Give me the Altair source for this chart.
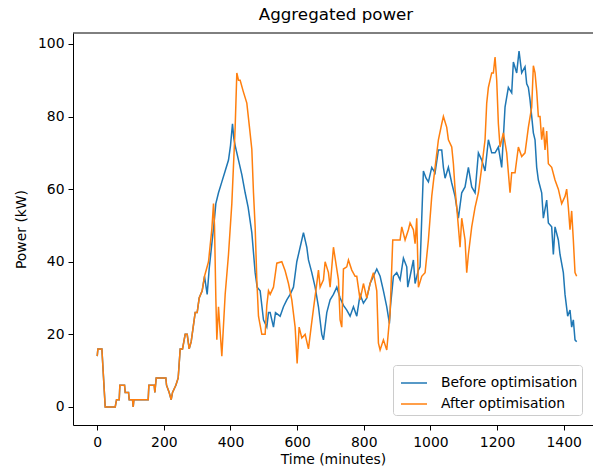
import altair as alt
import pandas as pd

# shared beginning of both profiles (minute, kW)
start_points = [(0, 14), (2, 16), (14, 16), (24, 0), (54, 0), (58, 2), (66, 2), (68, 6), (82, 6),
                (84, 4), (94, 4), (96, 2), (106, 2), (108, 0), (110, 2), (153, 2), (155, 6), (171, 6),
                (173, 4), (177, 8), (206, 8), (208, 6), (216, 4), (222, 2), (226, 4), (236, 6),
                (243, 8), (249, 16), (256, 16), (264, 20), (270, 20), (276, 16), (282, 18), (288, 22),
                (294, 26), (300, 26), (306, 30), (315, 32), (322, 36)]

before_points = [(330, 31), (336, 38), (344, 45), (350, 50), (356, 56), (364, 59), (374, 62), (384, 65),
                 (394, 68), (400, 72), (406, 78), (410, 74), (414, 72), (424, 68), (434, 64), (444, 59),
                 (453, 55), (464, 48), (474, 37), (480, 33), (489, 32), (499, 24), (509, 22), (514, 26),
                 (519, 26), (529, 22), (535, 26), (549, 25), (559, 27.6), (569, 29.5), (579, 31),
                 (589, 33), (599, 40), (609, 44), (619, 48), (629, 44), (634, 40.5), (644, 37), (654, 33),
                 (664, 27.6), (674, 20), (679, 18.5), (689, 26), (699, 29.5), (709, 31), (719, 33),
                 (729, 30), (739, 28), (749, 26.7), (759, 25), (769, 27.6), (779, 25), (789, 31),
                 (799, 28.6), (809, 30), (819, 34), (829, 36), (839, 38), (849, 36), (859, 32),
                 (869, 27.6), (877, 23), (880, 27.6), (889, 36), (899, 37), (909, 35), (919, 41),
                 (929, 38.6), (932, 33), (939, 36), (949, 40.5), (954, 34), (964, 37.7), (969, 38.6),
                 (974, 52), (979, 65), (987, 63), (994, 62), (1004, 66), (1014, 64.5), (1024, 70.8),
                 (1034, 70.8), (1039, 66), (1044, 63), (1054, 66), (1064, 61.7), (1074, 58), (1084, 52),
                 (1094, 59), (1104, 60.6), (1114, 66), (1124, 60.6), (1134, 59), (1144, 70), (1154, 68),
                 (1164, 65), (1174, 73.6), (1184, 70), (1194, 70), (1204, 71.6), (1214, 66), (1224, 82.6),
                 (1234, 88), (1244, 86.5), (1249, 95), (1259, 92), (1266, 98), (1274, 92), (1284, 93.7),
                 (1289, 89), (1294, 88), (1299, 84.6), (1309, 75.5), (1314, 73.6), (1319, 66),
                 (1324, 62.5), (1334, 59), (1339, 52), (1349, 57), (1354, 50.7), (1364, 49.6),
                 (1369, 42), (1374, 49.6), (1384, 46), (1389, 42), (1399, 37), (1404, 31), (1412, 25),
                 (1419, 26.7), (1424, 22), (1429, 24), (1434, 18.5), (1439, 18)]

after_points = [(334, 40), (344, 49), (349, 56), (352, 50), (356, 30), (359, 18.5), (364, 27.6),
                (368, 22), (374, 14), (384, 31), (394, 42), (404, 56), (414, 77), (419, 92), (424, 90),
                (429, 90), (438, 87), (449, 83.7), (457, 77), (464, 71), (469, 59), (474, 49.6),
                (479, 35), (484, 25), (494, 20), (504, 20), (509, 28), (514, 32), (519, 31), (529, 33),
                (539, 39.6), (554, 40), (564, 37.5), (574, 34), (584, 29.5), (594, 22), (600, 12),
                (606, 22), (614, 19), (624, 20), (634, 16), (642, 22), (649, 27), (659, 34), (664, 37.7),
                (669, 33), (679, 35), (684, 40), (694, 37), (699, 33), (709, 44), (714, 41), (724, 35),
                (729, 24), (734, 22), (739, 38), (749, 38.6), (754, 40.5), (764, 37.7), (774, 36),
                (779, 36), (789, 29.5), (799, 34), (809, 30), (819, 34), (829, 37), (839, 32),
                (844, 17.6), (849, 15.7), (859, 18.5), (869, 15.7), (879, 26), (887, 46), (899, 46),
                (909, 46), (914, 49.6), (924, 46), (934, 48.8), (939, 50.7), (949, 48.8), (954, 45),
                (959, 52), (964, 33), (974, 36), (984, 37), (994, 46), (1004, 58), (1014, 66),
                (1024, 73.6), (1034, 78), (1039, 80), (1049, 77), (1054, 73.6), (1064, 71.6), (1069, 67),
                (1074, 60), (1079, 55), (1084, 49.6), (1089, 44), (1094, 52), (1104, 46), (1109, 37),
                (1114, 42), (1124, 49.6), (1134, 55), (1144, 59), (1154, 66), (1164, 73.6), (1169, 83.7),
                (1174, 88), (1184, 92), (1189, 92), (1194, 96.4), (1199, 90), (1204, 78), (1209, 71.6),
                (1219, 75.5), (1229, 70), (1234, 64.5), (1239, 59), (1244, 64.5), (1254, 64.5),
                (1264, 71.6), (1274, 69), (1284, 70), (1294, 77), (1304, 82.6), (1309, 94), (1314, 92),
                (1319, 87), (1324, 80), (1329, 80), (1334, 73.6), (1339, 77), (1344, 70.8), (1349, 76),
                (1354, 67), (1364, 66), (1374, 62.5), (1384, 60), (1394, 56), (1404, 58), (1409, 60),
                (1414, 55), (1419, 48.8), (1424, 54), (1429, 46), (1434, 37), (1439, 36)]

series_names = ["Before optimisation", "After optimisation"]
series_colors = ["#1f77b4", "#ff7f0e"]
x_ticks = [0, 200, 400, 600, 800, 1000, 1200, 1400]
y_ticks = [0, 20, 40, 60, 80, 100]

rows = []
for t, v in start_points + before_points:
    rows.append({"t": t, "p": v, "series": series_names[0]})
for t, v in start_points + after_points:
    rows.append({"t": t, "p": v, "series": series_names[1]})
df = pd.DataFrame(rows)

FONT = "DejaVu Sans"
FS = 13.9
W, H = 520, 392

x_enc = alt.X("t:Q", title="Time (minutes)",
              scale=alt.Scale(domain=[-72.7, 1488], nice=False, zero=False),
              axis=alt.Axis(values=x_ticks, format="d", grid=False, labelPadding=5,
                            titlePadding=4))
y_enc = alt.Y("p:Q", title="Power (kW)",
              scale=alt.Scale(domain=[-4.96, 103.0], nice=False, zero=False),
              axis=alt.Axis(values=y_ticks, format="d", grid=False, labelPadding=4,
                            titlePadding=9))
color_enc = alt.Color("series:N", title=None,
                      scale=alt.Scale(domain=series_names, range=series_colors),
                      legend=alt.Legend(orient="none", legendX=320, legendY=332,
                                        direction="vertical"))

base = alt.Chart(df)
line_before = base.transform_filter(alt.datum.series == series_names[0]).mark_line(
    strokeWidth=1.5).encode(x=x_enc, y=y_enc, color=color_enc)
line_after = base.transform_filter(alt.datum.series == series_names[1]).mark_line(
    strokeWidth=1.5).encode(x=x_enc, y=y_enc, color=color_enc)
top_rule = alt.Chart(pd.DataFrame({"a": [0]})).mark_rule(color="black", strokeWidth=1).encode(
    y=alt.value(0), x=alt.value(0), x2=alt.value(W))

chart = alt.layer(line_before, line_after, top_rule).properties(
    width=W, height=H,
    background="white",
    title=alt.TitleParams("Aggregated power", font=FONT, fontSize=16.7, fontWeight="normal",
                          color="black", anchor="middle", offset=9, dx=3),
    autosize=alt.AutoSizeParams(type="none"),
    padding={"left": 73, "top": 33, "right": 0, "bottom": 48},
).configure_view(stroke=None).configure_axis(
    domainColor="black", tickColor="black", labelColor="black", titleColor="black",
    labelFont=FONT, titleFont=FONT, labelFontSize=FS, titleFontSize=FS,
    titleFontWeight="normal", tickSize=5, domainWidth=1, tickWidth=1,
).configure_legend(
    labelFont=FONT, labelFontSize=FS, labelColor="black", symbolType="stroke",
    symbolSize=676, symbolStrokeWidth=1.5, symbolOffset=3, labelOffset=13, fillColor="white",
    strokeColor="#cccccc", cornerRadius=3, padding=4, rowPadding=-4, labelLimit=300,
)

chart.save("out.html", embed_options={"renderer": "svg", "actions": False})
